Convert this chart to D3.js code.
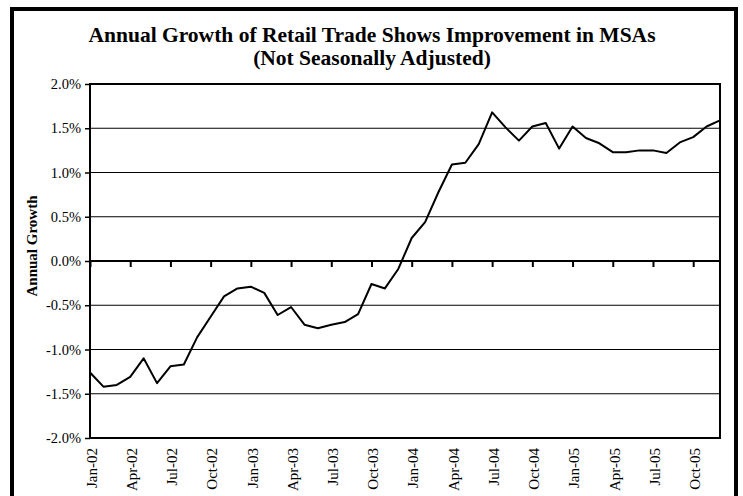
<!DOCTYPE html>
<html>
<head>
<meta charset="utf-8">
<script src="https://cdn.jsdelivr.net/npm/d3@7"></script>
<style>
  html, body { margin: 0; padding: 0; background: #fff; }
  svg { display: block; }
  text { font-family: "Liberation Serif", "Times New Roman", serif; fill: #000; }
</style>
</head>
<body>
<svg id="chart" width="743" height="496"></svg>
<script>
const months = [
  "Jan-02","Feb-02","Mar-02","Apr-02","May-02","Jun-02","Jul-02","Aug-02","Sep-02","Oct-02","Nov-02","Dec-02",
  "Jan-03","Feb-03","Mar-03","Apr-03","May-03","Jun-03","Jul-03","Aug-03","Sep-03","Oct-03","Nov-03","Dec-03",
  "Jan-04","Feb-04","Mar-04","Apr-04","May-04","Jun-04","Jul-04","Aug-04","Sep-04","Oct-04","Nov-04","Dec-04",
  "Jan-05","Feb-05","Mar-05","Apr-05","May-05","Jun-05","Jul-05","Aug-05","Sep-05","Oct-05","Nov-05","Dec-05"
];
// annual growth, percent
const growth = [
  -1.26, -1.42, -1.40, -1.31, -1.10, -1.38, -1.19, -1.17, -0.86, -0.63, -0.40, -0.31,
  -0.29, -0.36, -0.61, -0.52, -0.72, -0.76, -0.72, -0.69, -0.60, -0.26, -0.31, -0.09,
   0.26,  0.44,  0.78,  1.09,  1.11,  1.32,  1.68,  1.51,  1.36,  1.52,  1.56,  1.27,
   1.52,  1.39,  1.33,  1.23,  1.23,  1.25,  1.25,  1.22,  1.34,  1.40,  1.52,  1.59
];
const xTickLabels = ["Jan-02","Apr-02","Jul-02","Oct-02","Jan-03","Apr-03","Jul-03","Oct-03",
  "Jan-04","Apr-04","Jul-04","Oct-04","Jan-05","Apr-05","Jul-05","Oct-05"];
const yTicks = [-2.0, -1.5, -1.0, -0.5, 0.0, 0.5, 1.0, 1.5, 2.0];
const yTickLabels = ["-2.0%","-1.5%","-1.0%","-0.5%","0.0%","0.5%","1.0%","1.5%","2.0%"];
const titleLines = ["Annual Growth of Retail Trade Shows Improvement in MSAs", "(Not Seasonally Adjusted)"];
const yTitle = "Annual Growth";

const svg = d3.select("#chart");
const L = 90, R = 720, T = 84, B = 438;

// outer frame
svg.append("rect").attr("x", 12).attr("y", 9).attr("width", 724).attr("height", 492)
  .attr("fill", "none").attr("stroke", "#000").attr("stroke-width", 4);

const x = d3.scalePoint().domain(months).range([L, R]);
const y = d3.scaleLinear().domain([-2, 2]).range([B, T]);

// gridlines
svg.append("g").selectAll("line").data(yTicks.filter(v => v !== 0 && Math.abs(v) < 2)).join("line")
  .attr("x1", L).attr("x2", R).attr("y1", d => y(d)).attr("y2", d => y(d))
  .attr("stroke", "#000").attr("stroke-width", 1.2);

// plot frame
svg.append("rect").attr("x", L).attr("y", T).attr("width", R - L).attr("height", B - T)
  .attr("fill", "none").attr("stroke", "#000").attr("stroke-width", 2);

// y axis
const yAxis = d3.axisLeft(y).tickValues(yTicks).tickSize(5).tickPadding(4)
  .tickFormat((d, i) => yTickLabels[i]);
const gy = svg.append("g").attr("transform", `translate(${L},0)`).call(yAxis);
gy.select(".domain").remove();
gy.selectAll(".tick line").attr("stroke", "#000").attr("stroke-width", 1.5);
gy.selectAll(".tick text").style("font-family", "Liberation Serif").style("font-size", "14.5px").attr("fill", "#000");

// zero line with ticks
const xAxisZero = d3.axisBottom(x).tickValues(xTickLabels).tickSize(6).tickFormat("");
const gz = svg.append("g").attr("transform", `translate(0,${y(0)})`).call(xAxisZero);
gz.select(".domain").attr("stroke", "#000").attr("stroke-width", 2.2).attr("d", `M${L},0H${R}`);
gz.selectAll(".tick line").attr("stroke", "#000").attr("stroke-width", 2);

// x labels at bottom
const xAxisLab = d3.axisBottom(x).tickValues(xTickLabels).tickSize(0);
const gx = svg.append("g").attr("transform", `translate(0,${B})`).call(xAxisLab);
gx.select(".domain").remove();
gx.selectAll(".tick text")
  .style("font-family", "Liberation Serif").style("font-size", "15px").attr("fill", "#000")
  .attr("transform", "rotate(-90)")
  .attr("text-anchor", "end")
  .attr("x", -10).attr("y", 1).attr("dy", "0.35em");

// line
const line = d3.line().x((d, i) => x(months[i])).y(d => y(d));
svg.append("path").datum(growth).attr("d", line)
  .attr("fill", "none").attr("stroke", "#000").attr("stroke-width", 2).attr("stroke-linejoin", "round");

// titles
svg.append("text").attr("x", 372).attr("y", 42).attr("text-anchor", "middle")
  .style("font-size", "21.5px").style("font-weight", "bold").text(titleLines[0]);
svg.append("text").attr("x", 372).attr("y", 65).attr("text-anchor", "middle")
  .style("font-size", "21.5px").style("font-weight", "bold").text(titleLines[1]);

// y title
svg.append("text").attr("transform", "translate(37,246) rotate(-90)").attr("text-anchor", "middle")
  .style("font-size", "15px").style("font-weight", "bold").text(yTitle);
</script>
</body>
</html>
